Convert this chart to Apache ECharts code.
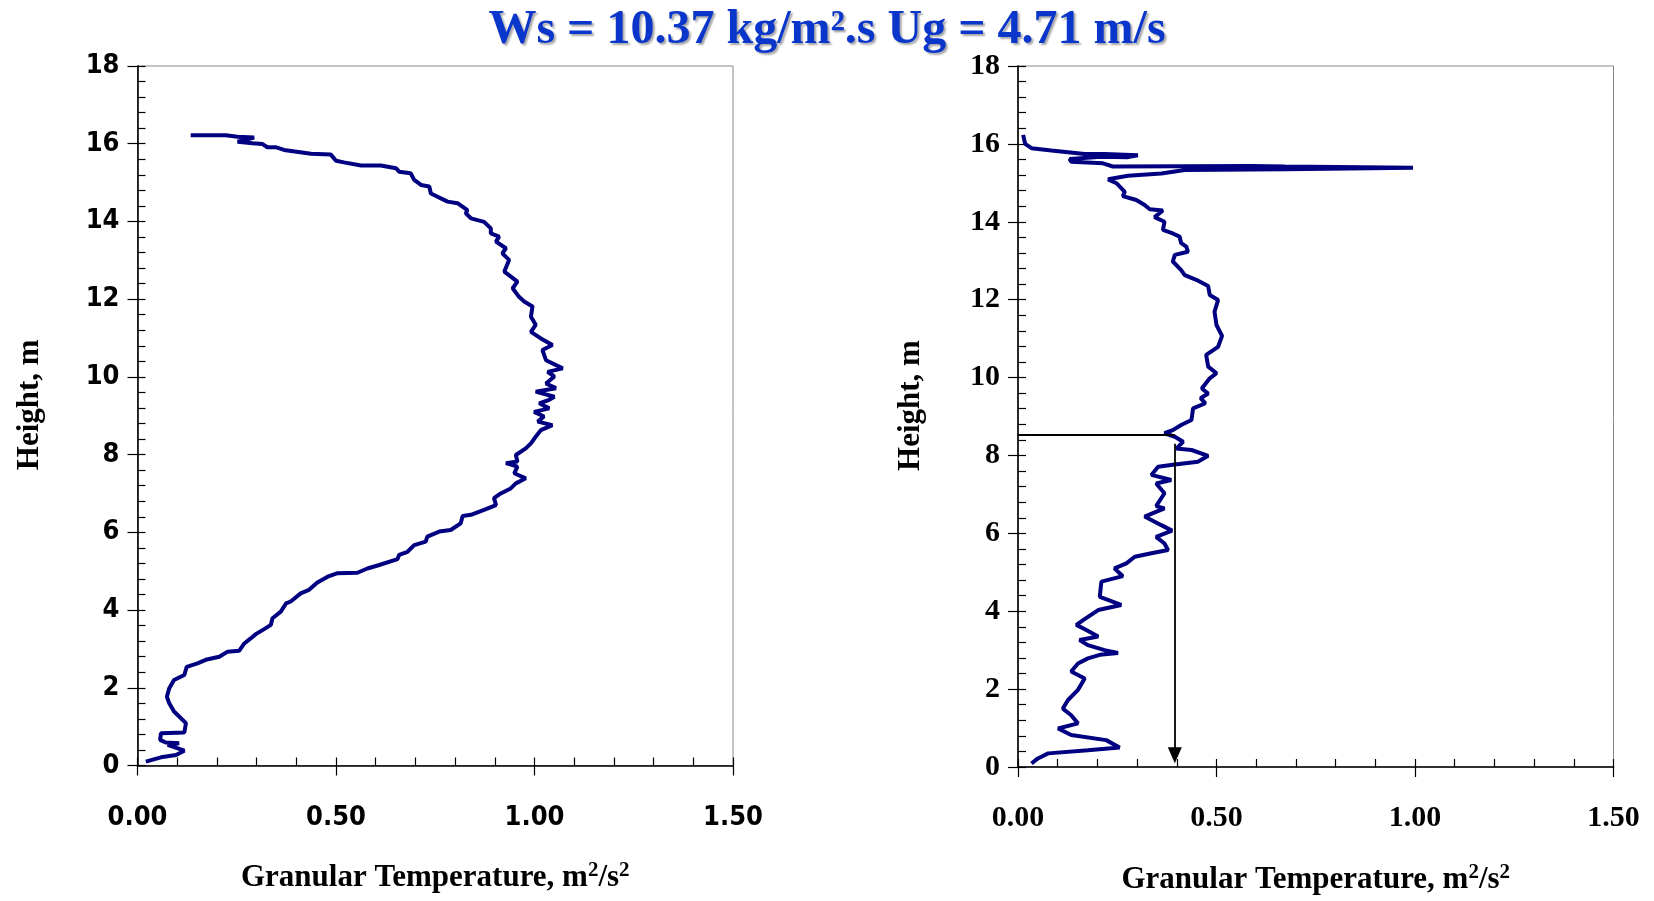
<!DOCTYPE html>
<html>
<head>
<meta charset="utf-8">
<script src="https://cdn.jsdelivr.net/npm/echarts@6/dist/echarts.min.js"></script>
<style>html,body{margin:0;padding:0;background:#fff}#c{width:1654px;height:901px}</style>
</head>
<body>
<div id="c"></div>
<script>
// ---- data (granular temperature [m2/s2], height [m]) ----
const titleText = 'Ws = 10.37 kg/m\u00B2.s Ug = 4.71 m/s';
const xTicks = [0, 0.5, 1.0, 1.5];
const yTicks = [0, 2, 4, 6, 8, 10, 12, 14, 16, 18];

const leftProfile = [
[0.134,16.22],[0.222,16.22],[0.252,16.18],[0.294,16.16],[0.252,16.05],[0.29,16.01],[0.315,15.99],[0.327,15.91],
[0.348,15.91],[0.369,15.84],[0.437,15.74],[0.487,15.72],[0.5,15.56],[0.52,15.52],[0.563,15.44],[0.613,15.44],
[0.651,15.37],[0.659,15.28],[0.688,15.24],[0.697,15.07],[0.714,14.94],[0.735,14.9],[0.739,14.72],[0.781,14.51],
[0.806,14.47],[0.831,14.29],[0.827,14.21],[0.84,14.08],[0.873,13.99],[0.89,13.82],[0.89,13.69],[0.911,13.61],
[0.903,13.48],[0.928,13.31],[0.919,13.18],[0.936,13.01],[0.924,12.71],[0.957,12.45],[0.945,12.28],[0.961,12.06],
[0.974,11.94],[0.995,11.81],[0.991,11.55],[1.003,11.34],[0.991,11.16],[1.016,10.99],[1.045,10.82],[1.02,10.69],
[1.029,10.43],[1.071,10.22],[1.033,10.13],[1.05,10.01],[1.029,9.83],[1.054,9.71],[1.003,9.62],[1.05,9.49],
[1.037,9.41],[1.012,9.32],[1.037,9.19],[0.999,9.1],[1.024,8.98],[1.008,8.85],[1.045,8.76],[1.016,8.63],
[1.003,8.46],[0.991,8.29],[0.978,8.16],[0.953,7.99],[0.957,7.82],[0.928,7.78],[0.957,7.69],[0.949,7.52],
[0.978,7.39],[0.953,7.26],[0.94,7.13],[0.915,7.0],[0.898,6.88],[0.903,6.7],[0.873,6.58],[0.84,6.45],
[0.819,6.42],[0.814,6.23],[0.789,6.06],[0.76,6.02],[0.73,5.89],[0.726,5.76],[0.697,5.67],[0.68,5.5],
[0.659,5.42],[0.655,5.31],[0.609,5.16],[0.579,5.07],[0.554,4.96],[0.504,4.95],[0.479,4.86],[0.453,4.71],
[0.432,4.52],[0.411,4.43],[0.386,4.22],[0.374,4.17],[0.361,3.96],[0.34,3.79],[0.336,3.62],[0.319,3.51],
[0.298,3.38],[0.285,3.27],[0.269,3.14],[0.256,2.95],[0.227,2.93],[0.206,2.8],[0.172,2.72],[0.151,2.63],
[0.124,2.54],[0.118,2.33],[0.092,2.2],[0.08,1.99],[0.074,1.77],[0.08,1.6],[0.092,1.39],[0.122,1.09],
[0.118,0.85],[0.059,0.83],[0.057,0.66],[0.071,0.59],[0.105,0.57],[0.076,0.53],[0.118,0.38],[0.097,0.27],
[0.059,0.21],[0.021,0.1]
];

const rightProfile = [
[0.013,16.23],[0.018,16.0],[0.034,15.89],[0.084,15.83],[0.168,15.74],[0.218,15.74],[0.302,15.71],[0.277,15.66],
[0.21,15.67],[0.13,15.61],[0.134,15.54],[0.214,15.5],[0.239,15.42],[0.588,15.43],[0.672,15.42],[0.995,15.39],
[0.672,15.35],[0.42,15.33],[0.361,15.24],[0.277,15.18],[0.227,15.09],[0.248,14.99],[0.269,14.77],[0.264,14.66],
[0.298,14.56],[0.319,14.43],[0.332,14.32],[0.365,14.29],[0.344,14.12],[0.369,14.0],[0.365,13.79],[0.39,13.7],
[0.407,13.62],[0.411,13.45],[0.424,13.36],[0.428,13.23],[0.395,13.15],[0.39,12.98],[0.411,12.76],[0.42,12.63],
[0.449,12.51],[0.479,12.35],[0.483,12.12],[0.504,11.99],[0.495,11.69],[0.5,11.35],[0.514,11.07],[0.504,10.79],
[0.474,10.58],[0.479,10.28],[0.5,10.11],[0.483,9.98],[0.463,9.72],[0.479,9.59],[0.46,9.47],[0.472,9.34],
[0.441,9.21],[0.437,8.91],[0.411,8.78],[0.39,8.65],[0.369,8.57],[0.395,8.48],[0.416,8.35],[0.399,8.18],
[0.437,8.14],[0.479,7.99],[0.453,7.84],[0.39,7.76],[0.353,7.71],[0.336,7.5],[0.386,7.37],[0.348,7.28],
[0.369,7.03],[0.348,6.7],[0.369,6.64],[0.319,6.43],[0.361,6.21],[0.388,6.07],[0.348,5.91],[0.369,5.74],
[0.378,5.57],[0.336,5.49],[0.294,5.4],[0.273,5.23],[0.243,5.1],[0.264,4.9],[0.21,4.76],[0.206,4.37],
[0.26,4.16],[0.202,4.03],[0.164,3.77],[0.147,3.65],[0.172,3.52],[0.202,3.35],[0.155,3.26],[0.176,3.13],
[0.218,3.0],[0.252,2.93],[0.206,2.88],[0.176,2.79],[0.151,2.66],[0.134,2.45],[0.168,2.27],[0.151,1.98],
[0.126,1.72],[0.113,1.5],[0.134,1.33],[0.151,1.12],[0.101,0.99],[0.134,0.82],[0.222,0.69],[0.256,0.5],
[0.176,0.43],[0.076,0.35],[0.05,0.22],[0.034,0.09]
];

// annotation on right panel
const refHeight = 8.54;
const refTemp = 0.395;
const arrowTop = 8.3;
const arrowEnd = 0.3;

// ---- chart ----
const chart = echarts.init(document.getElementById('c'), null, {renderer: 'canvas'});
const lineColor = '#000080';
const sansLab = {fontFamily: "'DejaVu Sans Condensed', 'DejaVu Sans'", fontWeight: 'bold', fontSize: 27, color: '#000'};
const serifLab = {fontFamily: 'Liberation Serif', fontWeight: 'bold', fontSize: 30, color: '#000'};
const nameStyleX = {fontFamily: 'Liberation Serif', fontWeight: 'bold', fontSize: 31, color: '#000',
  rich: {sup: {fontFamily: 'Liberation Serif', fontWeight: 'bold', fontSize: 21, color: '#000', verticalAlign: 'top', padding: [0, 0, 14, 0]}}};
const nameStyleY = {fontFamily: 'Liberation Serif', fontWeight: 'bold', fontSize: 31, color: '#000', padding: [0, 0, 0, 22]};

function mainX(grid, lab, labMargin) {
  return {
    type: 'value', gridIndex: grid, min: xTicks[0], max: xTicks[xTicks.length-1], interval: xTicks[1]-xTicks[0],
    position: 'bottom',
    name: 'Granular Temperature, m{sup|2}/s{sup|2}', nameLocation: 'middle', nameGap: 95, nameTextStyle: nameStyleX,
    axisLine: {show: true, onZero: false, lineStyle: {color: '#000', width: 1.6}},
    axisTick: {show: true, inside: false, length: 10, lineStyle: {color: '#000', width: 1.2}},
    axisLabel: Object.assign({margin: labMargin, formatter: v => v.toFixed(2)}, lab),
    splitLine: {show: false}
  };
}
function minorX(grid) {
  return {
    type: 'value', gridIndex: grid, min: 0, max: 1.5, interval: 0.1, position: 'bottom',
    axisLine: {show: false}, axisLabel: {show: false}, splitLine: {show: false},
    axisTick: {show: true, inside: true, length: 8, lineStyle: {color: '#000', width: 1.2}}
  };
}
function mainY(grid, lab) {
  return {
    type: 'value', gridIndex: grid, min: yTicks[0], max: yTicks[yTicks.length-1], interval: yTicks[1]-yTicks[0],
    position: 'left',
    name: 'Height, m', nameLocation: 'middle', nameGap: 92, nameRotate: 90, nameTextStyle: nameStyleY,
    axisLine: {show: true, onZero: false, lineStyle: {color: '#000', width: 1.6}},
    axisTick: {show: true, inside: false, length: 10, lineStyle: {color: '#000', width: 1.2}},
    axisLabel: Object.assign({margin: 18}, lab),
    splitLine: {show: false}
  };
}
function minorY(grid) {
  return {
    type: 'value', gridIndex: grid, min: 0, max: 18, interval: 0.4, position: 'left',
    axisLine: {show: false}, axisLabel: {show: false}, splitLine: {show: false},
    axisTick: {show: true, inside: true, length: 8, lineStyle: {color: '#000', width: 1.2}}
  };
}

const option = {
  backgroundColor: '#fff',
  animation: false,
  title: {
    text: titleText, left: 'center', top: 7, padding: 0,
    textStyle: {fontFamily: 'Liberation Serif', fontWeight: 'bold', fontSize: 48, color: '#0a36cc',
      textShadowColor: 'rgba(0,0,0,0.35)', textShadowOffsetX: 2, textShadowOffsetY: 2, textShadowBlur: 2}
  },
  grid: [
    {left: 137.5, right: 921, top: 66, bottom: 135.5, show: true, borderColor: '#888', borderWidth: 1, containLabel: false},
    {left: 1018, right: 40.5, top: 66, bottom: 134, show: true, borderColor: '#888', borderWidth: 1, containLabel: false}
  ],
  xAxis: [mainX(0, sansLab, 39), minorX(0), mainX(1, serifLab, 36), minorX(1)],
  yAxis: [mainY(0, sansLab), minorY(0), mainY(1, serifLab), minorY(1)],
  series: [
    {type: 'line', xAxisIndex: 0, yAxisIndex: 0, data: leftProfile, showSymbol: false, symbol: 'none',
      lineStyle: {color: lineColor, width: 4}, z: 3},
    {type: 'line', xAxisIndex: 2, yAxisIndex: 2, data: rightProfile, showSymbol: false, symbol: 'none',
      lineStyle: {color: lineColor, width: 4}, z: 3},
    {type: 'line', xAxisIndex: 2, yAxisIndex: 2, data: [], symbol: 'none',
      markLine: {
        silent: true, animation: false, label: {show: false},
        lineStyle: {color: '#000', width: 1.8, type: 'solid'},
        data: [
          [{coord: [0, refHeight], symbol: 'none'}, {coord: [refTemp, refHeight], symbol: 'none'}],
          [{coord: [refTemp, arrowTop], symbol: 'none'}, {coord: [refTemp, arrowEnd], symbol: 'triangle', symbolSize: [14, 16]}]
        ]
      }
    }
  ]
};
chart.setOption(option);
</script>
</body>
</html>
